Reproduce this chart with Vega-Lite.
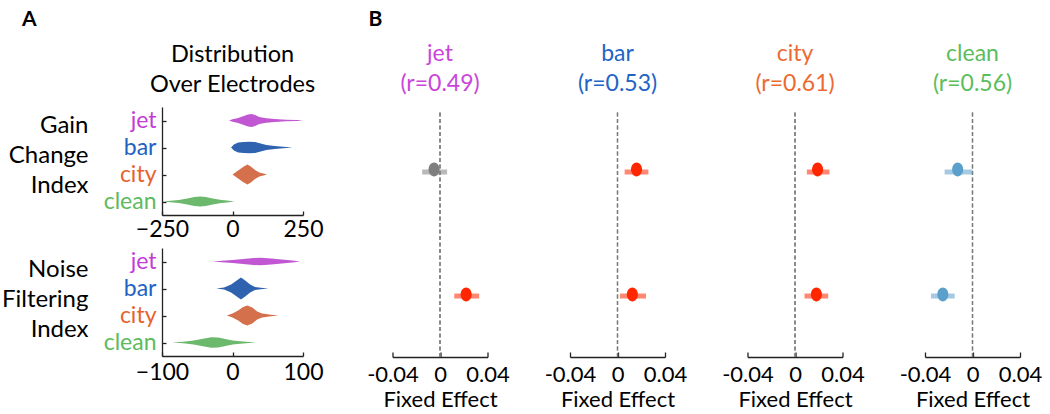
{
  "$schema": "https://vega.github.io/schema/vega-lite/v6.json",
  "padding": {"left": 1, "top": 8, "right": 5, "bottom": 5},
  "spacing": 42.5,
  "resolve": {"scale": {"color": "independent", "x": "independent", "y": "independent"}},
  "config": {
    "font": "Lato",
    "view": {"stroke": null},
    "axis": {"domainColor": "#222222", "domainWidth": 1.3, "tickColor": "#222222", "tickWidth": 1.3, "tickSize": -4, "labelColor": "#000000", "titleColor": "#000000", "labelFontSize": 23, "titleFontSize": 24, "titleFontWeight": "normal", "grid": false},
    "title": {"fontWeight": "normal", "fontSize": 23, "color": "#000000"}
  },
  "datasets": {
    "gain": [
      {"c": "jet", "x": -12, "lo": 108, "hi": 108}, {"c": "jet", "x": 0, "lo": 106.8, "hi": 109.2}, {"c": "jet", "x": 20, "lo": 105.5, "hi": 110.5}, {"c": "jet", "x": 40, "lo": 103.5, "hi": 112.5}, {"c": "jet", "x": 55, "lo": 102, "hi": 114}, {"c": "jet", "x": 68, "lo": 101.5, "hi": 114.5}, {"c": "jet", "x": 80, "lo": 102.5, "hi": 113.5}, {"c": "jet", "x": 95, "lo": 104.5, "hi": 111.5}, {"c": "jet", "x": 120, "lo": 105.8, "hi": 110.2}, {"c": "jet", "x": 150, "lo": 106.6, "hi": 109.4}, {"c": "jet", "x": 190, "lo": 107.2, "hi": 108.8}, {"c": "jet", "x": 230, "lo": 107.6, "hi": 108.4}, {"c": "jet", "x": 250, "lo": 108, "hi": 108},
      {"c": "bar", "x": -5, "lo": 81, "hi": 81}, {"c": "bar", "x": 5, "lo": 78, "hi": 84}, {"c": "bar", "x": 20, "lo": 76, "hi": 86}, {"c": "bar", "x": 40, "lo": 75.5, "hi": 86.5}, {"c": "bar", "x": 60, "lo": 75.2, "hi": 86.8}, {"c": "bar", "x": 80, "lo": 75.5, "hi": 86.5}, {"c": "bar", "x": 100, "lo": 77, "hi": 85}, {"c": "bar", "x": 120, "lo": 78.5, "hi": 83.5}, {"c": "bar", "x": 150, "lo": 79.5, "hi": 82.5}, {"c": "bar", "x": 180, "lo": 80.2, "hi": 81.8}, {"c": "bar", "x": 213, "lo": 81, "hi": 81},
      {"c": "city", "x": 0, "lo": 54, "hi": 54}, {"c": "city", "x": 10, "lo": 52, "hi": 56}, {"c": "city", "x": 25, "lo": 49, "hi": 59}, {"c": "city", "x": 40, "lo": 46, "hi": 62}, {"c": "city", "x": 53, "lo": 44, "hi": 64}, {"c": "city", "x": 65, "lo": 46, "hi": 62}, {"c": "city", "x": 80, "lo": 49.5, "hi": 58.5}, {"c": "city", "x": 95, "lo": 52, "hi": 56}, {"c": "city", "x": 110, "lo": 53, "hi": 55}, {"c": "city", "x": 122, "lo": 54, "hi": 54},
      {"c": "clean", "x": -248, "lo": 27, "hi": 27}, {"c": "clean", "x": -220, "lo": 26.2, "hi": 27.8}, {"c": "clean", "x": -190, "lo": 25.5, "hi": 28.5}, {"c": "clean", "x": -160, "lo": 24, "hi": 30}, {"c": "clean", "x": -135, "lo": 22.5, "hi": 31.5}, {"c": "clean", "x": -115, "lo": 22, "hi": 32}, {"c": "clean", "x": -95, "lo": 22.5, "hi": 31.5}, {"c": "clean", "x": -70, "lo": 24, "hi": 30}, {"c": "clean", "x": -45, "lo": 25.2, "hi": 28.8}, {"c": "clean", "x": -20, "lo": 26, "hi": 28}, {"c": "clean", "x": 7, "lo": 27, "hi": 27}
    ],
    "noise": [
      {"c": "jet", "x": -28, "lo": 108, "hi": 108}, {"c": "jet", "x": -15, "lo": 107.2, "hi": 108.8}, {"c": "jet", "x": 0, "lo": 106.5, "hi": 109.5}, {"c": "jet", "x": 15, "lo": 105.5, "hi": 110.5}, {"c": "jet", "x": 30, "lo": 104.4, "hi": 111.6}, {"c": "jet", "x": 40, "lo": 104.3, "hi": 111.7}, {"c": "jet", "x": 55, "lo": 105, "hi": 111}, {"c": "jet", "x": 70, "lo": 106, "hi": 110}, {"c": "jet", "x": 85, "lo": 107, "hi": 109}, {"c": "jet", "x": 96, "lo": 108, "hi": 108},
      {"c": "bar", "x": -23, "lo": 81, "hi": 81}, {"c": "bar", "x": -12, "lo": 80, "hi": 82}, {"c": "bar", "x": -2, "lo": 77, "hi": 85}, {"c": "bar", "x": 6, "lo": 73, "hi": 89}, {"c": "bar", "x": 12, "lo": 70, "hi": 92}, {"c": "bar", "x": 18, "lo": 73, "hi": 89}, {"c": "bar", "x": 25, "lo": 77, "hi": 85}, {"c": "bar", "x": 32, "lo": 79.5, "hi": 82.5}, {"c": "bar", "x": 40, "lo": 80.2, "hi": 81.8}, {"c": "bar", "x": 51, "lo": 81, "hi": 81},
      {"c": "city", "x": -8, "lo": 54, "hi": 54}, {"c": "city", "x": 0, "lo": 52, "hi": 56}, {"c": "city", "x": 8, "lo": 49, "hi": 59}, {"c": "city", "x": 15, "lo": 45.5, "hi": 62.5}, {"c": "city", "x": 21, "lo": 44, "hi": 64}, {"c": "city", "x": 28, "lo": 46, "hi": 62}, {"c": "city", "x": 35, "lo": 50, "hi": 58}, {"c": "city", "x": 42, "lo": 52, "hi": 56}, {"c": "city", "x": 52, "lo": 53, "hi": 55}, {"c": "city", "x": 65, "lo": 54, "hi": 54},
      {"c": "clean", "x": -86, "lo": 27, "hi": 27}, {"c": "clean", "x": -70, "lo": 26.2, "hi": 27.8}, {"c": "clean", "x": -55, "lo": 25, "hi": 29}, {"c": "clean", "x": -42, "lo": 23.2, "hi": 30.8}, {"c": "clean", "x": -30, "lo": 21.8, "hi": 32.2}, {"c": "clean", "x": -20, "lo": 22, "hi": 32}, {"c": "clean", "x": -10, "lo": 23.5, "hi": 30.5}, {"c": "clean", "x": 0, "lo": 25, "hi": 29}, {"c": "clean", "x": 15, "lo": 26, "hi": 28}, {"c": "clean", "x": 33, "lo": 27, "hi": 27}
    ],
    "fx": [
      {"cond": "jet", "row": "gain", "est": -0.005, "lo": -0.015, "hi": 0.006, "sig": "ns"},
      {"cond": "jet", "row": "noise", "est": 0.022, "lo": 0.012, "hi": 0.033, "sig": "pos"},
      {"cond": "bar", "row": "gain", "est": 0.016, "lo": 0.006, "hi": 0.026, "sig": "pos"},
      {"cond": "bar", "row": "noise", "est": 0.0125, "lo": 0.002, "hi": 0.024, "sig": "pos"},
      {"cond": "city", "row": "gain", "est": 0.019, "lo": 0.010, "hi": 0.029, "sig": "pos"},
      {"cond": "city", "row": "noise", "est": 0.018, "lo": 0.008, "hi": 0.028, "sig": "pos"},
      {"cond": "clean", "row": "gain", "est": -0.0125, "lo": -0.0235, "hi": 0.0, "sig": "neg"},
      {"cond": "clean", "row": "noise", "est": -0.025, "lo": -0.035, "hi": -0.015, "sig": "neg"}
    ]
  },
  "hconcat": [
    {
      "title": {"text": "A", "anchor": "start", "frame": "group", "dx": -140, "offset": 13, "fontSize": 21, "fontWeight": "bold"},
      "spacing": 7,
      "resolve": {"scale": {"x": "independent", "y": "independent"}},
      "vconcat": [
        {
          "title": {"text": ["Distribution", "Over Electrodes"], "lineHeight": 30, "anchor": "middle", "offset": 11, "fontSize": 23.5},
          "width": 141,
          "height": 108,
          "data": {"name": "gain"},
          "mark": {"type": "area", "orient": "vertical"},
          "encoding": {
            "x": {"field": "x", "type": "quantitative", "scale": {"domain": [-250, 250], "nice": false}, "axis": {"values": [-250, 0, 250], "title": null, "labelPadding": 7, "labelFlush": false}},
            "y": {"field": "lo", "type": "quantitative", "scale": {"domain": [13.5, 121.5], "nice": false, "zero": false}, "axis": {"values": [27, 54, 81, 108], "labelExpr": "datum.value == 108 ? 'jet' : datum.value == 81 ? 'bar' : datum.value == 54 ? 'city' : 'clean'", "labelColor": {"expr": "datum.value == 108 ? '#c23dd6' : datum.value == 81 ? '#2461c4' : datum.value == 54 ? '#e8612c' : '#5dba5d'"}, "labelPadding": 10, "title": ["Gain", "Change", "Index"], "titleAngle": 0, "titleAlign": "right", "titleBaseline": "middle", "titleLineHeight": 30, "titleX": -74, "titleY": 18}},
            "y2": {"field": "hi"},
            "color": {"field": "c", "type": "nominal", "scale": {"domain": ["jet", "bar", "city", "clean"], "range": ["#c157d2", "#2f63b0", "#d4704c", "#6cb86c"]}, "legend": null}
          }
        },
        {
          "width": 141,
          "height": 108,
          "data": {"name": "noise"},
          "mark": {"type": "area", "orient": "vertical"},
          "encoding": {
            "x": {"field": "x", "type": "quantitative", "scale": {"domain": [-100, 100], "nice": false}, "axis": {"values": [-100, 0, 100], "title": null, "labelPadding": 9, "labelFlush": false}},
            "y": {"field": "lo", "type": "quantitative", "scale": {"domain": [13.5, 121.5], "nice": false, "zero": false}, "axis": {"values": [27, 54, 81, 108], "labelExpr": "datum.value == 108 ? 'jet' : datum.value == 81 ? 'bar' : datum.value == 54 ? 'city' : 'clean'", "labelColor": {"expr": "datum.value == 108 ? '#c23dd6' : datum.value == 81 ? '#2461c4' : datum.value == 54 ? '#e8612c' : '#5dba5d'"}, "labelPadding": 10, "title": ["Noise", "Filtering", "Index"], "titleAngle": 0, "titleAlign": "right", "titleBaseline": "middle", "titleLineHeight": 30, "titleX": -74, "titleY": 21}},
            "y2": {"field": "hi"},
            "color": {"field": "c", "type": "nominal", "scale": {"domain": ["jet", "bar", "city", "clean"], "range": ["#c157d2", "#2f63b0", "#d4704c", "#6cb86c"]}, "legend": null}
          }
        }
      ]
    },
    {
      "title": {"text": "B", "anchor": "start", "frame": "group", "dx": -24, "offset": 13, "fontSize": 21, "fontWeight": "bold"},
      "spacing": 34.5,
      "resolve": {"scale": {"x": "independent", "y": "independent"}},
      "hconcat": [
        {
          "title": {"text": ["jet", "(r=0.49)"], "color": "#c946db", "lineHeight": 30, "offset": 11},
          "width": 95, "height": 250,
          "data": {"name": "fx"},
          "transform": [{"filter": "datum.cond == 'jet'"}],
          "resolve": {"scale": {"y": "independent"}},
          "layer": [
            {"mark": {"type": "rule", "color": "#7a7a7a", "strokeDash": [4, 2.5], "strokeWidth": 1.3}, "encoding": {"x": {"datum": 0, "type": "quantitative", "scale": {"domain": [-0.04, 0.04], "nice": false}, "axis": {"values": [-0.04, 0, 0.04], "title": "Fixed Effect", "labelFontSize": 22, "titleFontSize": 22, "tickSize": -5, "labelPadding": 12, "titlePadding": 4, "labelFlush": false, "labelExpr": "datum.value == 0 ? '0' : datum.value < 0 ? '-0.04' : '0.04'"}}, "y": {"datum": 0, "type": "quantitative", "scale": {"domain": [0, 250], "nice": false}, "axis": null}, "y2": {"datum": 245}}},
            {"mark": {"type": "rule", "strokeWidth": 5, "opacity": 0.55}, "encoding": {"x": {"field": "lo", "type": "quantitative"}, "x2": {"field": "hi"}, "y": {"field": "row", "type": "nominal", "scale": {"type": "point", "domain": ["gain", "noise"], "padding": 0.508, "align": 0.516}, "axis": null}, "color": {"field": "sig", "type": "nominal", "scale": {"domain": ["pos", "neg", "ns"], "range": ["#ff2600", "#5b9fcb", "#7f7f7f"]}, "legend": null}}},
            {"mark": {"type": "point", "filled": true, "opacity": 1, "size": 190, "shape": "M-0.8,0A0.8,1,0,1,1,0.8,0A0.8,1,0,1,1,-0.8,0Z"}, "encoding": {"x": {"field": "est", "type": "quantitative"}, "y": {"field": "row", "type": "nominal", "axis": null}, "color": {"field": "sig", "type": "nominal", "legend": null}}}
          ]
        },
        {
          "title": {"text": ["bar", "(r=0.53)"], "color": "#2264c6", "lineHeight": 30, "offset": 11},
          "width": 95, "height": 250,
          "data": {"name": "fx"},
          "transform": [{"filter": "datum.cond == 'bar'"}],
          "resolve": {"scale": {"y": "independent"}},
          "layer": [
            {"mark": {"type": "rule", "color": "#7a7a7a", "strokeDash": [4, 2.5], "strokeWidth": 1.3}, "encoding": {"x": {"datum": 0, "type": "quantitative", "scale": {"domain": [-0.04, 0.04], "nice": false}, "axis": {"values": [-0.04, 0, 0.04], "title": "Fixed Effect", "labelFontSize": 22, "titleFontSize": 22, "tickSize": -5, "labelPadding": 12, "titlePadding": 4, "labelFlush": false, "labelExpr": "datum.value == 0 ? '0' : datum.value < 0 ? '-0.04' : '0.04'"}}, "y": {"datum": 0, "type": "quantitative", "scale": {"domain": [0, 250], "nice": false}, "axis": null}, "y2": {"datum": 245}}},
            {"mark": {"type": "rule", "strokeWidth": 5, "opacity": 0.55}, "encoding": {"x": {"field": "lo", "type": "quantitative"}, "x2": {"field": "hi"}, "y": {"field": "row", "type": "nominal", "scale": {"type": "point", "domain": ["gain", "noise"], "padding": 0.508, "align": 0.516}, "axis": null}, "color": {"field": "sig", "type": "nominal", "scale": {"domain": ["pos", "neg", "ns"], "range": ["#ff2600", "#5b9fcb", "#7f7f7f"]}, "legend": null}}},
            {"mark": {"type": "point", "filled": true, "opacity": 1, "size": 190, "shape": "M-0.8,0A0.8,1,0,1,1,0.8,0A0.8,1,0,1,1,-0.8,0Z"}, "encoding": {"x": {"field": "est", "type": "quantitative"}, "y": {"field": "row", "type": "nominal", "axis": null}, "color": {"field": "sig", "type": "nominal", "legend": null}}}
          ]
        },
        {
          "title": {"text": ["city", "(r=0.61)"], "color": "#ec6a30", "lineHeight": 30, "offset": 11},
          "width": 95, "height": 250,
          "data": {"name": "fx"},
          "transform": [{"filter": "datum.cond == 'city'"}],
          "resolve": {"scale": {"y": "independent"}},
          "layer": [
            {"mark": {"type": "rule", "color": "#7a7a7a", "strokeDash": [4, 2.5], "strokeWidth": 1.3}, "encoding": {"x": {"datum": 0, "type": "quantitative", "scale": {"domain": [-0.04, 0.04], "nice": false}, "axis": {"values": [-0.04, 0, 0.04], "title": "Fixed Effect", "labelFontSize": 22, "titleFontSize": 22, "tickSize": -5, "labelPadding": 12, "titlePadding": 4, "labelFlush": false, "labelExpr": "datum.value == 0 ? '0' : datum.value < 0 ? '-0.04' : '0.04'"}}, "y": {"datum": 0, "type": "quantitative", "scale": {"domain": [0, 250], "nice": false}, "axis": null}, "y2": {"datum": 245}}},
            {"mark": {"type": "rule", "strokeWidth": 5, "opacity": 0.55}, "encoding": {"x": {"field": "lo", "type": "quantitative"}, "x2": {"field": "hi"}, "y": {"field": "row", "type": "nominal", "scale": {"type": "point", "domain": ["gain", "noise"], "padding": 0.508, "align": 0.516}, "axis": null}, "color": {"field": "sig", "type": "nominal", "scale": {"domain": ["pos", "neg", "ns"], "range": ["#ff2600", "#5b9fcb", "#7f7f7f"]}, "legend": null}}},
            {"mark": {"type": "point", "filled": true, "opacity": 1, "size": 190, "shape": "M-0.8,0A0.8,1,0,1,1,0.8,0A0.8,1,0,1,1,-0.8,0Z"}, "encoding": {"x": {"field": "est", "type": "quantitative"}, "y": {"field": "row", "type": "nominal", "axis": null}, "color": {"field": "sig", "type": "nominal", "legend": null}}}
          ]
        },
        {
          "title": {"text": ["clean", "(r=0.56)"], "color": "#5cbd5c", "lineHeight": 30, "offset": 11},
          "width": 95, "height": 250,
          "data": {"name": "fx"},
          "transform": [{"filter": "datum.cond == 'clean'"}],
          "resolve": {"scale": {"y": "independent"}},
          "layer": [
            {"mark": {"type": "rule", "color": "#7a7a7a", "strokeDash": [4, 2.5], "strokeWidth": 1.3}, "encoding": {"x": {"datum": 0, "type": "quantitative", "scale": {"domain": [-0.04, 0.04], "nice": false}, "axis": {"values": [-0.04, 0, 0.04], "title": "Fixed Effect", "labelFontSize": 22, "titleFontSize": 22, "tickSize": -5, "labelPadding": 12, "titlePadding": 4, "labelFlush": false, "labelExpr": "datum.value == 0 ? '0' : datum.value < 0 ? '-0.04' : '0.04'"}}, "y": {"datum": 0, "type": "quantitative", "scale": {"domain": [0, 250], "nice": false}, "axis": null}, "y2": {"datum": 245}}},
            {"mark": {"type": "rule", "strokeWidth": 5, "opacity": 0.55}, "encoding": {"x": {"field": "lo", "type": "quantitative"}, "x2": {"field": "hi"}, "y": {"field": "row", "type": "nominal", "scale": {"type": "point", "domain": ["gain", "noise"], "padding": 0.508, "align": 0.516}, "axis": null}, "color": {"field": "sig", "type": "nominal", "scale": {"domain": ["pos", "neg", "ns"], "range": ["#ff2600", "#5b9fcb", "#7f7f7f"]}, "legend": null}}},
            {"mark": {"type": "point", "filled": true, "opacity": 1, "size": 190, "shape": "M-0.8,0A0.8,1,0,1,1,0.8,0A0.8,1,0,1,1,-0.8,0Z"}, "encoding": {"x": {"field": "est", "type": "quantitative"}, "y": {"field": "row", "type": "nominal", "axis": null}, "color": {"field": "sig", "type": "nominal", "legend": null}}}
          ]
        }
      ]
    }
  ]
}
